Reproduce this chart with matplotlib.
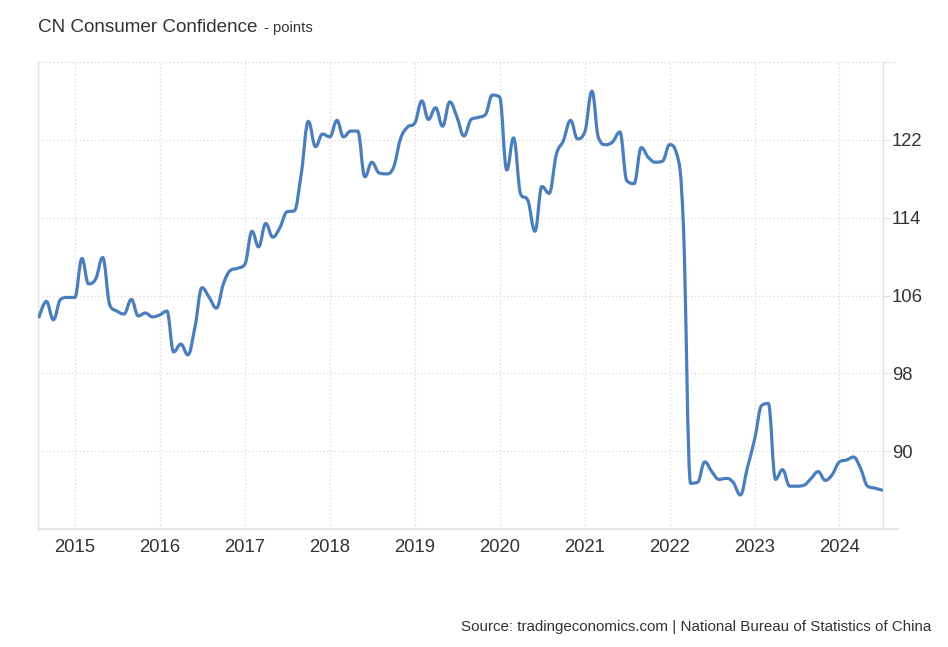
import numpy as np
import pandas as pd
import matplotlib
matplotlib.use('Agg')
import matplotlib.pyplot as plt
import matplotlib.dates as mdates
from matplotlib.path import Path
from matplotlib.patches import PathPatch

plt.rcParams['font.family'] = ['Liberation Sans', 'DejaVu Sans']

# ---- data ----
start_month = '2014-08-01'
end_month = '2024-07-01'
values = [
    103.8, 105.4, 103.5, 105.6, 105.8,                                   # 2014 Aug-Dec
    105.8, 109.8, 107.2, 107.7, 109.9, 105.0, 104.4, 104.1, 105.6, 103.9, 104.2, 103.8,  # 2015
    104.0, 104.4, 100.2, 101.0, 99.9, 102.8, 106.8, 105.8, 104.7, 107.2, 108.6, 108.8,   # 2016
    109.2, 112.6, 111.0, 113.4, 112.0, 113.0, 114.6, 114.7, 118.6, 123.9, 121.3, 122.6,  # 2017
    122.3, 124.0, 122.3, 122.9, 122.9, 118.2, 119.7, 118.6, 118.5, 119.1, 122.1, 123.3,  # 2018
    123.7, 126.0, 124.1, 125.3, 123.4, 125.9, 124.4, 122.4, 124.1, 124.3, 124.6, 126.6,  # 2019
    126.4, 118.9, 122.2, 116.4, 115.8, 112.6, 117.2, 116.5, 120.5, 121.9, 124.0, 122.1,  # 2020
    122.8, 127.0, 122.2, 121.5, 121.8, 122.8, 117.8, 117.5, 121.2, 120.2, 119.7, 119.8,  # 2021
    121.5, 120.5, 113.2, 86.7, 86.8, 88.9, 87.9, 87.1, 87.2, 86.8, 85.5, 88.3,           # 2022
    91.2, 94.7, 94.9, 87.1, 88.1, 86.4, 86.4, 86.5, 87.2, 87.9, 87.0, 87.6,              # 2023
    88.9, 89.1, 89.4, 88.2, 86.4, 86.2, 86.0,                                            # 2024 Jan-Jul
]
y_ticks = [90, 98, 106, 114, 122, 130]
y_tick_labels = ['90', '98', '106', '114', '122', '']
x_tick_years = list(range(2015, 2025))

title = 'CN Consumer Confidence'
subtitle = '- points'
source = 'Source: tradingeconomics.com | National Bureau of Statistics of China'

dates = pd.date_range(start_month, end_month, freq='MS')
xnum = mdates.date2num(dates.to_pydatetime())
yv = np.asarray(values, dtype=float)

LINE_COLOR = '#4a7ebd'
TEXT_COLOR = '#333333'
GRID_COLOR = '#d6d6d6'
AXIS_COLOR = '#e2e2e2'


def spline_path(x, y, smoothing=1.5):
    n = len(x)
    denom = smoothing + 1.0
    lc = [None] * n
    rc = [None] * n
    for i in range(n):
        if 0 < i < n - 1:
            lx, ly = x[i - 1], y[i - 1]
            nx, ny = x[i + 1], y[i + 1]
            px, py = x[i], y[i]
            lcx = (smoothing * px + lx) / denom
            lcy = (smoothing * py + ly) / denom
            rcx = (smoothing * px + nx) / denom
            rcy = (smoothing * py + ny) / denom
            corr = (rcy - lcy) * (rcx - px) / (rcx - lcx) + py - rcy
            lcy += corr
            rcy += corr
            if lcy > ly and lcy > py:
                lcy = max(ly, py); rcy = 2 * py - lcy
            elif lcy < ly and lcy < py:
                lcy = min(ly, py); rcy = 2 * py - lcy
            if rcy > ny and rcy > py:
                rcy = max(ny, py); lcy = 2 * py - rcy
            elif rcy < ny and rcy < py:
                rcy = min(ny, py); lcy = 2 * py - rcy
            lc[i] = (lcx, lcy)
            rc[i] = (rcx, rcy)
        else:
            lc[i] = rc[i] = (x[i], y[i])
    verts = [(x[0], y[0])]
    codes = [Path.MOVETO]
    for i in range(1, n):
        verts += [rc[i - 1], lc[i], (x[i], y[i])]
        codes += [Path.CURVE4] * 3
    return Path(verts, codes)


W, H = 948, 647
fig = plt.figure(figsize=(W / 100, H / 100), dpi=100)
fig.patch.set_facecolor('white')
ax = fig.add_axes([38 / W, 1 - 529 / H, (883 - 38) / W, (529 - 62) / H])
ax.set_facecolor('white')

patch = PathPatch(spline_path(xnum, yv), facecolor='none', edgecolor=LINE_COLOR,
                  lw=2.3, capstyle='round', joinstyle='round', zorder=3)
ax.add_patch(patch)

ax.set_xlim(xnum[0] - 5, xnum[-1] + 5)
ax.set_ylim(82, 130)

xt = mdates.date2num([pd.Timestamp(f'{yr}-01-01').to_pydatetime() for yr in x_tick_years])
ax.set_xticks(xt)
ax.set_xticklabels([str(yr) for yr in x_tick_years])
ax.set_yticks(y_ticks)
ax.set_yticklabels(y_tick_labels)
ax.yaxis.tick_right()

ax.tick_params(axis='x', length=0, pad=7, labelsize=13.3, labelcolor=TEXT_COLOR)
ax.tick_params(axis='y', length=5, width=0.8, color=AXIS_COLOR, pad=1.5,
               labelsize=13.3, labelcolor=TEXT_COLOR)

ax.grid(True, linestyle=(0, (1, 2)), color=GRID_COLOR, linewidth=0.9, zorder=0)
ax.set_axisbelow(True)

ax.spines['top'].set_visible(False)
for s in ['left', 'right']:
    ax.spines[s].set_color(AXIS_COLOR)
    ax.spines[s].set_linewidth(1.0)
ax.spines['bottom'].set_color(AXIS_COLOR)
ax.spines['bottom'].set_linewidth(1.3)

# extensions of bottom axis line and top grid line past the right spine
ext = (898 - 883) / (883 - 38)
ax.plot([1, 1 + ext], [0, 0], transform=ax.transAxes, clip_on=False,
        color=AXIS_COLOR, lw=1.3)
ax.plot([1, 1 + ext], [1, 1], transform=ax.transAxes, clip_on=False,
        color=GRID_COLOR, lw=0.9, linestyle=(0, (1, 2)))

t1 = fig.text(38 / W, 1 - 31.7 / H, title, fontsize=13.6, color=TEXT_COLOR, va='baseline')
fig.canvas.draw()
bb = t1.get_window_extent()
fig.text((bb.x1 + 6) / W, 1 - 31.7 / H, subtitle, fontsize=10.7, color=TEXT_COLOR, va='baseline')

fig.text(931.7 / W, 1 - 626.7 / H, source, fontsize=10.9, color=TEXT_COLOR,
         ha='right', va='center')

fig.savefig('out.png', dpi=100, facecolor='white')
